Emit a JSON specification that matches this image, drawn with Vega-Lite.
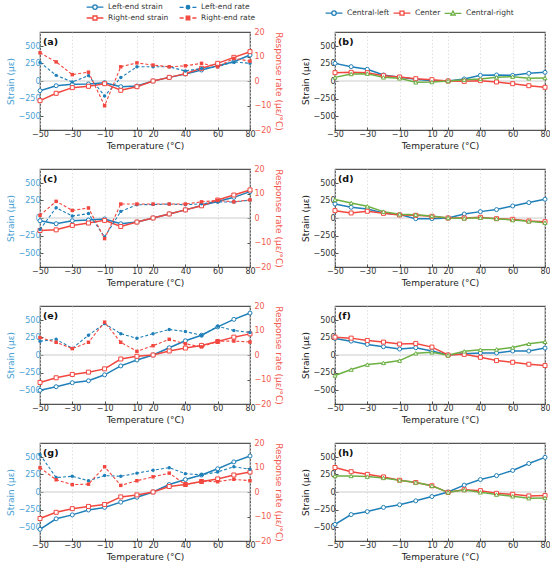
{
  "$schema": "https://vega.github.io/schema/vega-lite/v6.json",
  "padding": {"left": 5, "top": 1, "right": 3, "bottom": 3},
  "datasets": {
    "left": [
      {"p":"a","s":"Left-end strain","T":-50,"v":-138},{"p":"a","s":"Left-end strain","T":-40,"v":-67},{"p":"a","s":"Left-end strain","T":-30,"v":-48},{"p":"a","s":"Left-end strain","T":-20,"v":-43},{"p":"a","s":"Left-end strain","T":-10,"v":-24},{"p":"a","s":"Left-end strain","T":0,"v":-81},{"p":"a","s":"Left-end strain","T":10,"v":-71},{"p":"a","s":"Left-end strain","T":20,"v":0},{"p":"a","s":"Left-end strain","T":30,"v":52},{"p":"a","s":"Left-end strain","T":40,"v":100},{"p":"a","s":"Left-end strain","T":50,"v":157},{"p":"a","s":"Left-end strain","T":60,"v":219},{"p":"a","s":"Left-end strain","T":70,"v":276},{"p":"a","s":"Left-end strain","T":80,"v":371},
      {"p":"a","s":"Right-end strain","T":-50,"v":-281},{"p":"a","s":"Right-end strain","T":-40,"v":-176},{"p":"a","s":"Right-end strain","T":-30,"v":-95},{"p":"a","s":"Right-end strain","T":-20,"v":-76},{"p":"a","s":"Right-end strain","T":-10,"v":-38},{"p":"a","s":"Right-end strain","T":0,"v":-133},{"p":"a","s":"Right-end strain","T":10,"v":-81},{"p":"a","s":"Right-end strain","T":20,"v":0},{"p":"a","s":"Right-end strain","T":30,"v":52},{"p":"a","s":"Right-end strain","T":40,"v":105},{"p":"a","s":"Right-end strain","T":50,"v":181},{"p":"a","s":"Right-end strain","T":60,"v":252},{"p":"a","s":"Right-end strain","T":70,"v":338},{"p":"a","s":"Right-end strain","T":80,"v":419},
      {"p":"a","s":"Left-end rate","T":-50,"v":7.6},{"p":"a","s":"Left-end rate","T":-40,"v":2.3},{"p":"a","s":"Left-end rate","T":-30,"v":-0.4},{"p":"a","s":"Left-end rate","T":-20,"v":2.2},{"p":"a","s":"Left-end rate","T":-10,"v":-6.1},{"p":"a","s":"Left-end rate","T":0,"v":1.4},{"p":"a","s":"Left-end rate","T":10,"v":5.8},{"p":"a","s":"Left-end rate","T":20,"v":5.8},{"p":"a","s":"Left-end rate","T":30,"v":5.8},{"p":"a","s":"Left-end rate","T":40,"v":4.1},{"p":"a","s":"Left-end rate","T":50,"v":5.1},{"p":"a","s":"Left-end rate","T":60,"v":5.8},{"p":"a","s":"Left-end rate","T":70,"v":7.8},{"p":"a","s":"Left-end rate","T":80,"v":7.2},
      {"p":"a","s":"Right-end rate","T":-50,"v":11.5},{"p":"a","s":"Right-end rate","T":-40,"v":7.8},{"p":"a","s":"Right-end rate","T":-30,"v":2.6},{"p":"a","s":"Right-end rate","T":-20,"v":3.6},{"p":"a","s":"Right-end rate","T":-10,"v":-10.1},{"p":"a","s":"Right-end rate","T":0,"v":5.8},{"p":"a","s":"Right-end rate","T":10,"v":7.4},{"p":"a","s":"Right-end rate","T":20,"v":6.5},{"p":"a","s":"Right-end rate","T":30,"v":5.8},{"p":"a","s":"Right-end rate","T":40,"v":6.2},{"p":"a","s":"Right-end rate","T":50,"v":7.2},{"p":"a","s":"Right-end rate","T":60,"v":5.8},{"p":"a","s":"Right-end rate","T":70,"v":9.2},{"p":"a","s":"Right-end rate","T":80,"v":8.1},
      {"p":"c","s":"Left-end strain","T":-50,"v":-39},{"p":"c","s":"Left-end strain","T":-40,"v":-82},{"p":"c","s":"Left-end strain","T":-30,"v":-39},{"p":"c","s":"Left-end strain","T":-20,"v":-29},{"p":"c","s":"Left-end strain","T":-10,"v":-14},{"p":"c","s":"Left-end strain","T":0,"v":-82},{"p":"c","s":"Left-end strain","T":10,"v":-58},{"p":"c","s":"Left-end strain","T":20,"v":0},{"p":"c","s":"Left-end strain","T":30,"v":58},{"p":"c","s":"Left-end strain","T":40,"v":116},{"p":"c","s":"Left-end strain","T":50,"v":179},{"p":"c","s":"Left-end strain","T":60,"v":237},{"p":"c","s":"Left-end strain","T":70,"v":295},{"p":"c","s":"Left-end strain","T":80,"v":377},
      {"p":"c","s":"Right-end strain","T":-50,"v":-179},{"p":"c","s":"Right-end strain","T":-40,"v":-169},{"p":"c","s":"Right-end strain","T":-30,"v":-106},{"p":"c","s":"Right-end strain","T":-20,"v":-72},{"p":"c","s":"Right-end strain","T":-10,"v":-34},{"p":"c","s":"Right-end strain","T":0,"v":-121},{"p":"c","s":"Right-end strain","T":10,"v":-58},{"p":"c","s":"Right-end strain","T":20,"v":0},{"p":"c","s":"Right-end strain","T":30,"v":58},{"p":"c","s":"Right-end strain","T":40,"v":116},{"p":"c","s":"Right-end strain","T":50,"v":174},{"p":"c","s":"Right-end strain","T":60,"v":256},{"p":"c","s":"Right-end strain","T":70,"v":328},{"p":"c","s":"Right-end strain","T":80,"v":401},
      {"p":"c","s":"Left-end rate","T":-50,"v":-4.7},{"p":"c","s":"Left-end rate","T":-40,"v":4.2},{"p":"c","s":"Left-end rate","T":-30,"v":0.8},{"p":"c","s":"Left-end rate","T":-20,"v":1.8},{"p":"c","s":"Left-end rate","T":-10,"v":-7.7},{"p":"c","s":"Left-end rate","T":0,"v":2.7},{"p":"c","s":"Left-end rate","T":10,"v":5.4},{"p":"c","s":"Left-end rate","T":20,"v":5.5},{"p":"c","s":"Left-end rate","T":30,"v":5.7},{"p":"c","s":"Left-end rate","T":40,"v":5.4},{"p":"c","s":"Left-end rate","T":50,"v":5.8},{"p":"c","s":"Left-end rate","T":60,"v":6.6},{"p":"c","s":"Left-end rate","T":70,"v":6.5},{"p":"c","s":"Left-end rate","T":80,"v":7.3},
      {"p":"c","s":"Right-end rate","T":-50,"v":1.1},{"p":"c","s":"Right-end rate","T":-40,"v":6.8},{"p":"c","s":"Right-end rate","T":-30,"v":3.1},{"p":"c","s":"Right-end rate","T":-20,"v":4.1},{"p":"c","s":"Right-end rate","T":-10,"v":-8.4},{"p":"c","s":"Right-end rate","T":0,"v":5.7},{"p":"c","s":"Right-end rate","T":10,"v":5.7},{"p":"c","s":"Right-end rate","T":20,"v":5.7},{"p":"c","s":"Right-end rate","T":30,"v":5.7},{"p":"c","s":"Right-end rate","T":40,"v":5.7},{"p":"c","s":"Right-end rate","T":50,"v":6.6},{"p":"c","s":"Right-end rate","T":60,"v":7.2},{"p":"c","s":"Right-end rate","T":70,"v":6.6},{"p":"c","s":"Right-end rate","T":80,"v":7.4},
      {"p":"e","s":"Left-end strain","T":-50,"v":-505},{"p":"e","s":"Left-end strain","T":-40,"v":-453},{"p":"e","s":"Left-end strain","T":-30,"v":-396},{"p":"e","s":"Left-end strain","T":-20,"v":-368},{"p":"e","s":"Left-end strain","T":-10,"v":-283},{"p":"e","s":"Left-end strain","T":0,"v":-156},{"p":"e","s":"Left-end strain","T":10,"v":-71},{"p":"e","s":"Left-end strain","T":20,"v":0},{"p":"e","s":"Left-end strain","T":30,"v":104},{"p":"e","s":"Left-end strain","T":40,"v":203},{"p":"e","s":"Left-end strain","T":50,"v":283},{"p":"e","s":"Left-end strain","T":60,"v":401},{"p":"e","s":"Left-end strain","T":70,"v":509},{"p":"e","s":"Left-end strain","T":80,"v":599},
      {"p":"e","s":"Right-end strain","T":-50,"v":-392},{"p":"e","s":"Right-end strain","T":-40,"v":-325},{"p":"e","s":"Right-end strain","T":-30,"v":-278},{"p":"e","s":"Right-end strain","T":-20,"v":-245},{"p":"e","s":"Right-end strain","T":-10,"v":-198},{"p":"e","s":"Right-end strain","T":0,"v":-57},{"p":"e","s":"Right-end strain","T":10,"v":-19},{"p":"e","s":"Right-end strain","T":20,"v":0},{"p":"e","s":"Right-end strain","T":30,"v":57},{"p":"e","s":"Right-end strain","T":40,"v":99},{"p":"e","s":"Right-end strain","T":50,"v":137},{"p":"e","s":"Right-end strain","T":60,"v":193},{"p":"e","s":"Right-end strain","T":70,"v":255},{"p":"e","s":"Right-end strain","T":80,"v":302},
      {"p":"e","s":"Left-end rate","T":-50,"v":5.6},{"p":"e","s":"Left-end rate","T":-40,"v":6.4},{"p":"e","s":"Left-end rate","T":-30,"v":2.7},{"p":"e","s":"Left-end rate","T":-20,"v":8.1},{"p":"e","s":"Left-end rate","T":-10,"v":12.8},{"p":"e","s":"Left-end rate","T":0,"v":8.7},{"p":"e","s":"Left-end rate","T":10,"v":6.8},{"p":"e","s":"Left-end rate","T":20,"v":8.7},{"p":"e","s":"Left-end rate","T":30,"v":10.4},{"p":"e","s":"Left-end rate","T":40,"v":9.6},{"p":"e","s":"Left-end rate","T":50,"v":8.0},{"p":"e","s":"Left-end rate","T":60,"v":11.7},{"p":"e","s":"Left-end rate","T":70,"v":10.0},{"p":"e","s":"Left-end rate","T":80,"v":9.2},
      {"p":"e","s":"Right-end rate","T":-50,"v":7.1},{"p":"e","s":"Right-end rate","T":-40,"v":5.2},{"p":"e","s":"Right-end rate","T":-30,"v":2.6},{"p":"e","s":"Right-end rate","T":-20,"v":5.2},{"p":"e","s":"Right-end rate","T":-10,"v":13.4},{"p":"e","s":"Right-end rate","T":0,"v":5.2},{"p":"e","s":"Right-end rate","T":10,"v":1.5},{"p":"e","s":"Right-end rate","T":20,"v":3.8},{"p":"e","s":"Right-end rate","T":30,"v":6.4},{"p":"e","s":"Right-end rate","T":40,"v":4.6},{"p":"e","s":"Right-end rate","T":50,"v":3.3},{"p":"e","s":"Right-end rate","T":60,"v":5.6},{"p":"e","s":"Right-end rate","T":70,"v":5.7},{"p":"e","s":"Right-end rate","T":80,"v":5.3},
      {"p":"g","s":"Left-end strain","T":-50,"v":-533},{"p":"g","s":"Left-end strain","T":-40,"v":-383},{"p":"g","s":"Left-end strain","T":-30,"v":-327},{"p":"g","s":"Left-end strain","T":-20,"v":-257},{"p":"g","s":"Left-end strain","T":-10,"v":-220},{"p":"g","s":"Left-end strain","T":0,"v":-145},{"p":"g","s":"Left-end strain","T":10,"v":-75},{"p":"g","s":"Left-end strain","T":20,"v":0},{"p":"g","s":"Left-end strain","T":30,"v":107},{"p":"g","s":"Left-end strain","T":40,"v":178},{"p":"g","s":"Left-end strain","T":50,"v":243},{"p":"g","s":"Left-end strain","T":60,"v":332},{"p":"g","s":"Left-end strain","T":70,"v":430},{"p":"g","s":"Left-end strain","T":80,"v":514},
      {"p":"g","s":"Right-end strain","T":-50,"v":-379},{"p":"g","s":"Right-end strain","T":-40,"v":-290},{"p":"g","s":"Right-end strain","T":-30,"v":-238},{"p":"g","s":"Right-end strain","T":-20,"v":-206},{"p":"g","s":"Right-end strain","T":-10,"v":-178},{"p":"g","s":"Right-end strain","T":0,"v":-70},{"p":"g","s":"Right-end strain","T":10,"v":-42},{"p":"g","s":"Right-end strain","T":20,"v":0},{"p":"g","s":"Right-end strain","T":30,"v":79},{"p":"g","s":"Right-end strain","T":40,"v":107},{"p":"g","s":"Right-end strain","T":50,"v":150},{"p":"g","s":"Right-end strain","T":60,"v":187},{"p":"g","s":"Right-end strain","T":70,"v":243},{"p":"g","s":"Right-end strain","T":80,"v":285},
      {"p":"g","s":"Left-end rate","T":-50,"v":15.3},{"p":"g","s":"Left-end rate","T":-40,"v":5.9},{"p":"g","s":"Left-end rate","T":-30,"v":6.4},{"p":"g","s":"Left-end rate","T":-20,"v":4.6},{"p":"g","s":"Left-end rate","T":-10,"v":6.7},{"p":"g","s":"Left-end rate","T":0,"v":6.4},{"p":"g","s":"Left-end rate","T":10,"v":7.7},{"p":"g","s":"Left-end rate","T":20,"v":8.9},{"p":"g","s":"Left-end rate","T":30,"v":9.9},{"p":"g","s":"Left-end rate","T":40,"v":7.5},{"p":"g","s":"Left-end rate","T":50,"v":7.0},{"p":"g","s":"Left-end rate","T":60,"v":8.2},{"p":"g","s":"Left-end rate","T":70,"v":10.3},{"p":"g","s":"Left-end rate","T":80,"v":9.3},
      {"p":"g","s":"Right-end rate","T":-50,"v":9.9},{"p":"g","s":"Right-end rate","T":-40,"v":5.0},{"p":"g","s":"Right-end rate","T":-30,"v":3.0},{"p":"g","s":"Right-end rate","T":-20,"v":3.2},{"p":"g","s":"Right-end rate","T":-10,"v":10.3},{"p":"g","s":"Right-end rate","T":0,"v":2.7},{"p":"g","s":"Right-end rate","T":10,"v":4.6},{"p":"g","s":"Right-end rate","T":20,"v":6.2},{"p":"g","s":"Right-end rate","T":30,"v":7.7},{"p":"g","s":"Right-end rate","T":40,"v":3.0},{"p":"g","s":"Right-end rate","T":50,"v":4.4},{"p":"g","s":"Right-end rate","T":60,"v":4.2},{"p":"g","s":"Right-end rate","T":70,"v":5.2},{"p":"g","s":"Right-end rate","T":80,"v":4.6}
    ],
    "right": [
      {"p":"b","s":"Central-left","T":-50,"v":252},{"p":"b","s":"Central-left","T":-40,"v":205},{"p":"b","s":"Central-left","T":-30,"v":167},{"p":"b","s":"Central-left","T":-20,"v":86},{"p":"b","s":"Central-left","T":-10,"v":52},{"p":"b","s":"Central-left","T":0,"v":24},{"p":"b","s":"Central-left","T":10,"v":5},{"p":"b","s":"Central-left","T":20,"v":0},{"p":"b","s":"Central-left","T":30,"v":29},{"p":"b","s":"Central-left","T":40,"v":81},{"p":"b","s":"Central-left","T":50,"v":86},{"p":"b","s":"Central-left","T":60,"v":81},{"p":"b","s":"Central-left","T":70,"v":110},{"p":"b","s":"Central-left","T":80,"v":124},
      {"p":"b","s":"Center","T":-50,"v":119},{"p":"b","s":"Center","T":-40,"v":124},{"p":"b","s":"Center","T":-30,"v":119},{"p":"b","s":"Center","T":-20,"v":76},{"p":"b","s":"Center","T":-10,"v":57},{"p":"b","s":"Center","T":0,"v":33},{"p":"b","s":"Center","T":10,"v":19},{"p":"b","s":"Center","T":20,"v":0},{"p":"b","s":"Center","T":30,"v":-5},{"p":"b","s":"Center","T":40,"v":5},{"p":"b","s":"Center","T":50,"v":-14},{"p":"b","s":"Center","T":60,"v":-38},{"p":"b","s":"Center","T":70,"v":-67},{"p":"b","s":"Center","T":80,"v":-90},
      {"p":"b","s":"Central-right","T":-50,"v":52},{"p":"b","s":"Central-right","T":-40,"v":100},{"p":"b","s":"Central-right","T":-30,"v":105},{"p":"b","s":"Central-right","T":-20,"v":52},{"p":"b","s":"Central-right","T":-10,"v":38},{"p":"b","s":"Central-right","T":0,"v":-19},{"p":"b","s":"Central-right","T":10,"v":-14},{"p":"b","s":"Central-right","T":20,"v":0},{"p":"b","s":"Central-right","T":30,"v":19},{"p":"b","s":"Central-right","T":40,"v":29},{"p":"b","s":"Central-right","T":50,"v":52},{"p":"b","s":"Central-right","T":60,"v":62},{"p":"b","s":"Central-right","T":70,"v":38},{"p":"b","s":"Central-right","T":80,"v":43},
      {"p":"d","s":"Central-left","T":-50,"v":201},{"p":"d","s":"Central-left","T":-40,"v":153},{"p":"d","s":"Central-left","T":-30,"v":129},{"p":"d","s":"Central-left","T":-20,"v":72},{"p":"d","s":"Central-left","T":-10,"v":48},{"p":"d","s":"Central-left","T":0,"v":-10},{"p":"d","s":"Central-left","T":10,"v":-10},{"p":"d","s":"Central-left","T":20,"v":0},{"p":"d","s":"Central-left","T":30,"v":57},{"p":"d","s":"Central-left","T":40,"v":91},{"p":"d","s":"Central-left","T":50,"v":120},{"p":"d","s":"Central-left","T":60,"v":172},{"p":"d","s":"Central-left","T":70,"v":220},{"p":"d","s":"Central-left","T":80,"v":268},
      {"p":"d","s":"Center","T":-50,"v":105},{"p":"d","s":"Center","T":-40,"v":72},{"p":"d","s":"Center","T":-30,"v":96},{"p":"d","s":"Center","T":-20,"v":67},{"p":"d","s":"Center","T":-10,"v":43},{"p":"d","s":"Center","T":0,"v":38},{"p":"d","s":"Center","T":10,"v":24},{"p":"d","s":"Center","T":20,"v":0},{"p":"d","s":"Center","T":30,"v":0},{"p":"d","s":"Center","T":40,"v":10},{"p":"d","s":"Center","T":50,"v":-10},{"p":"d","s":"Center","T":60,"v":-19},{"p":"d","s":"Center","T":70,"v":-43},{"p":"d","s":"Center","T":80,"v":-53},
      {"p":"d","s":"Central-right","T":-50,"v":263},{"p":"d","s":"Central-right","T":-40,"v":215},{"p":"d","s":"Central-right","T":-30,"v":167},{"p":"d","s":"Central-right","T":-20,"v":91},{"p":"d","s":"Central-right","T":-10,"v":53},{"p":"d","s":"Central-right","T":0,"v":48},{"p":"d","s":"Central-right","T":10,"v":29},{"p":"d","s":"Central-right","T":20,"v":0},{"p":"d","s":"Central-right","T":30,"v":-5},{"p":"d","s":"Central-right","T":40,"v":5},{"p":"d","s":"Central-right","T":50,"v":-10},{"p":"d","s":"Central-right","T":60,"v":-29},{"p":"d","s":"Central-right","T":70,"v":-48},{"p":"d","s":"Central-right","T":80,"v":-67},
      {"p":"f","s":"Central-left","T":-50,"v":236},{"p":"f","s":"Central-left","T":-40,"v":198},{"p":"f","s":"Central-left","T":-30,"v":151},{"p":"f","s":"Central-left","T":-20,"v":118},{"p":"f","s":"Central-left","T":-10,"v":85},{"p":"f","s":"Central-left","T":0,"v":104},{"p":"f","s":"Central-left","T":10,"v":57},{"p":"f","s":"Central-left","T":20,"v":0},{"p":"f","s":"Central-left","T":30,"v":19},{"p":"f","s":"Central-left","T":40,"v":28},{"p":"f","s":"Central-left","T":50,"v":28},{"p":"f","s":"Central-left","T":60,"v":57},{"p":"f","s":"Central-left","T":70,"v":57},{"p":"f","s":"Central-left","T":80,"v":99},
      {"p":"f","s":"Center","T":-50,"v":255},{"p":"f","s":"Center","T":-40,"v":241},{"p":"f","s":"Center","T":-30,"v":208},{"p":"f","s":"Center","T":-20,"v":184},{"p":"f","s":"Center","T":-10,"v":156},{"p":"f","s":"Center","T":0,"v":165},{"p":"f","s":"Center","T":10,"v":113},{"p":"f","s":"Center","T":20,"v":0},{"p":"f","s":"Center","T":30,"v":9},{"p":"f","s":"Center","T":40,"v":-33},{"p":"f","s":"Center","T":50,"v":-80},{"p":"f","s":"Center","T":60,"v":-104},{"p":"f","s":"Center","T":70,"v":-132},{"p":"f","s":"Center","T":80,"v":-151},
      {"p":"f","s":"Central-right","T":-50,"v":-292},{"p":"f","s":"Central-right","T":-40,"v":-208},{"p":"f","s":"Central-right","T":-30,"v":-137},{"p":"f","s":"Central-right","T":-20,"v":-113},{"p":"f","s":"Central-right","T":-10,"v":-80},{"p":"f","s":"Central-right","T":0,"v":24},{"p":"f","s":"Central-right","T":10,"v":38},{"p":"f","s":"Central-right","T":20,"v":-5},{"p":"f","s":"Central-right","T":30,"v":52},{"p":"f","s":"Central-right","T":40,"v":75},{"p":"f","s":"Central-right","T":50,"v":80},{"p":"f","s":"Central-right","T":60,"v":108},{"p":"f","s":"Central-right","T":70,"v":160},{"p":"f","s":"Central-right","T":80,"v":189},
      {"p":"h","s":"Central-left","T":-50,"v":-463},{"p":"h","s":"Central-left","T":-40,"v":-322},{"p":"h","s":"Central-left","T":-30,"v":-280},{"p":"h","s":"Central-left","T":-20,"v":-220},{"p":"h","s":"Central-left","T":-10,"v":-182},{"p":"h","s":"Central-left","T":0,"v":-126},{"p":"h","s":"Central-left","T":10,"v":-65},{"p":"h","s":"Central-left","T":20,"v":0},{"p":"h","s":"Central-left","T":30,"v":98},{"p":"h","s":"Central-left","T":40,"v":178},{"p":"h","s":"Central-left","T":50,"v":234},{"p":"h","s":"Central-left","T":60,"v":308},{"p":"h","s":"Central-left","T":70,"v":407},{"p":"h","s":"Central-left","T":80,"v":495},
      {"p":"h","s":"Center","T":-50,"v":350},{"p":"h","s":"Center","T":-40,"v":290},{"p":"h","s":"Center","T":-30,"v":252},{"p":"h","s":"Center","T":-20,"v":215},{"p":"h","s":"Center","T":-10,"v":168},{"p":"h","s":"Center","T":0,"v":136},{"p":"h","s":"Center","T":10,"v":89},{"p":"h","s":"Center","T":20,"v":-5},{"p":"h","s":"Center","T":30,"v":33},{"p":"h","s":"Center","T":40,"v":19},{"p":"h","s":"Center","T":50,"v":-19},{"p":"h","s":"Center","T":60,"v":-33},{"p":"h","s":"Center","T":70,"v":-56},{"p":"h","s":"Center","T":80,"v":-51},
      {"p":"h","s":"Central-right","T":-50,"v":229},{"p":"h","s":"Central-right","T":-40,"v":229},{"p":"h","s":"Central-right","T":-30,"v":220},{"p":"h","s":"Central-right","T":-20,"v":201},{"p":"h","s":"Central-right","T":-10,"v":168},{"p":"h","s":"Central-right","T":0,"v":136},{"p":"h","s":"Central-right","T":10,"v":89},{"p":"h","s":"Central-right","T":20,"v":-5},{"p":"h","s":"Central-right","T":30,"v":28},{"p":"h","s":"Central-right","T":40,"v":-5},{"p":"h","s":"Central-right","T":50,"v":-37},{"p":"h","s":"Central-right","T":60,"v":-61},{"p":"h","s":"Central-right","T":70,"v":-89},{"p":"h","s":"Central-right","T":80,"v":-84}
    ]
  },
  "spacing": 13,
  "resolve": {"scale": {"color": "independent", "shape": "independent", "fill": "independent", "stroke": "independent", "x": "independent", "y": "independent"}, "legend": {"color": "independent", "shape": "independent", "fill": "independent", "stroke": "independent"}},
  "vconcat": [
    {
      "spacing": 16,
      "resolve": {"scale": {"color": "independent", "shape": "independent", "fill": "independent", "stroke": "independent", "x": "independent", "y": "independent"}, "legend": {"color": "independent", "shape": "independent", "fill": "independent", "stroke": "independent"}},
      "hconcat": [
        {
          "width": 210, "height": 98,
          "resolve": {"scale": {"y": "independent"}},
          "layer": [
            {"layer": [
              {"data": {"values": [{}]}, "mark": {"type": "rule", "color": "#cccccc", "strokeWidth": 1}, "encoding": {"y": {"datum": 0, "type": "quantitative"}}},
              {"data": {"name": "left"}, "transform": [{"filter": "datum.p === 'a' && indexof(datum.s, 'strain') >= 0"}], "mark": {"type": "line", "strokeWidth": 1.5},
               "encoding": {"x": {"field": "T", "type": "quantitative", "scale": {"domain": [-50, 80], "nice": false}, "axis": {"values": [-50, -30, -10, 10, 20, 40, 60, 80], "tickCount": 20, "title": "Temperature (°C)", "labelFlush": false}},
                 "y": {"field": "v", "type": "quantitative", "scale": {"domain": [-700, 700], "nice": false, "zero": false}, "axis": {"values": [-500, -250, 0, 250, 500], "tickCount": 20, "title": "Strain (με)", "labelColor": "#4a9fd4", "titleColor": "#4a9fd4"}},
                 "color": {"field": "s", "type": "nominal", "scale": {"domain": ["Left-end rate", "Left-end strain", "Right-end rate", "Right-end strain"], "range": ["#1f7fb8", "#1f7fb8", "#f2473f", "#f2473f"]}, "legend": null}}},
              {"data": {"name": "left"}, "transform": [{"filter": "datum.p === 'a' && datum.s === 'Left-end strain'"}], "mark": {"type": "point", "shape": "circle", "filled": false, "fill": "white", "size": 16, "strokeWidth": 1, "opacity": 1, "color": "#1f7fb8"},
               "encoding": {"x": {"field": "T", "type": "quantitative"}, "y": {"field": "v", "type": "quantitative"}}},
              {"data": {"name": "left"}, "transform": [{"filter": "datum.p === 'a' && datum.s === 'Right-end strain'"}], "mark": {"type": "point", "shape": "square", "filled": false, "fill": "white", "size": 16, "strokeWidth": 1, "opacity": 1, "color": "#f2473f"},
               "encoding": {"x": {"field": "T", "type": "quantitative"}, "y": {"field": "v", "type": "quantitative"}}},
              {"data": {"name": "left"}, "transform": [{"filter": "datum.p === 'a' && datum.T === 20"}], "mark": {"type": "point", "filled": true, "opacity": 0},
               "encoding": {"x": {"field": "T", "type": "quantitative"}, "y": {"field": "v", "type": "quantitative"},
                 "shape": {"field": "s", "type": "nominal", "scale": {"domain": ["Left-end strain", "Left-end rate", "Right-end strain", "Right-end rate"], "range": ["M-2.1,0L-0.55,0M0.55,0L2.1,0M-0.55,0A0.55,0.55,0,1,1,0.55,0A0.55,0.55,0,1,1,-0.55,0Z", "M-2.1,0L-1.1,0M1.1,0L2.1,0M-0.45,0A0.45,0.45,0,1,1,0.45,0A0.45,0.45,0,1,1,-0.45,0Z", "M-2.1,0L-0.5,0M0.5,0L2.1,0M-0.5,-0.5L0.5,-0.5L0.5,0.5L-0.5,0.5Z", "M-2.1,0L-1.1,0M1.1,0L2.1,0M-0.45,-0.45L0.45,-0.45L0.45,0.45L-0.45,0.45Z"]},
                   "legend": {"orient": "none", "legendX": 46, "legendY": -30, "direction": "horizontal", "columns": 2, "title": null, "labelFontSize": 7.5, "symbolSize": 64, "symbolOffset": 4, "labelOffset": 8, "columnPadding": 8, "rowPadding": 1, "symbolStrokeWidth": 1.3, "symbolOpacity": 1}},
                 "fill": {"field": "s", "type": "nominal", "scale": {"domain": ["Left-end strain", "Left-end rate", "Right-end strain", "Right-end rate"], "range": ["white", "#1f7fb8", "white", "#f2473f"]},
                   "legend": {"orient": "none", "legendX": 46, "legendY": -30, "direction": "horizontal", "columns": 2, "title": null, "labelFontSize": 7.5, "symbolSize": 64, "symbolOffset": 4, "labelOffset": 8, "columnPadding": 8, "rowPadding": 1, "symbolStrokeWidth": 1.3, "symbolOpacity": 1}},
                 "stroke": {"field": "s", "type": "nominal", "scale": {"domain": ["Left-end strain", "Left-end rate", "Right-end strain", "Right-end rate"], "range": ["#1f7fb8", "#1f7fb8", "#f2473f", "#f2473f"]},
                   "legend": {"orient": "none", "legendX": 46, "legendY": -30, "direction": "horizontal", "columns": 2, "title": null, "labelFontSize": 7.5, "symbolSize": 64, "symbolOffset": 4, "labelOffset": 8, "columnPadding": 8, "rowPadding": 1, "symbolStrokeWidth": 1.3, "symbolOpacity": 1}}}},
              {"data": {"values": [{}]}, "mark": {"type": "text", "text": "(a)", "align": "left", "baseline": "top", "dx": 3, "dy": 5, "fontWeight": "bold", "fontSize": 9.5, "color": "#111111"},
               "encoding": {"x": {"datum": -50, "type": "quantitative"}, "y": {"datum": 700, "type": "quantitative"}}}
            ]},
            {"layer": [
              {"data": {"name": "left"}, "transform": [{"filter": "datum.p === 'a' && indexof(datum.s, 'rate') >= 0"}], "mark": {"type": "line", "strokeWidth": 1.1, "strokeDash": [3, 2]},
               "encoding": {"x": {"field": "T", "type": "quantitative"},
                 "y": {"field": "v", "type": "quantitative", "scale": {"domain": [-20, 20], "nice": false}, "axis": {"orient": "right", "values": [-20, -10, 0, 10, 20], "tickCount": 20, "labelPadding": 7, "title": "Response rate (με/°C)", "labelColor": "#f25a50", "titleColor": "#f25a50", "grid": false}},
                 "color": {"field": "s", "type": "nominal", "scale": {"domain": ["Left-end rate", "Left-end strain", "Right-end rate", "Right-end strain"], "range": ["#1f7fb8", "#1f7fb8", "#f2473f", "#f2473f"]}, "legend": null}}},
              {"data": {"name": "left"}, "transform": [{"filter": "datum.p === 'a' && datum.s === 'Left-end rate'"}], "mark": {"type": "point", "shape": "circle", "filled": true, "size": 12, "opacity": 1, "color": "#1f7fb8"},
               "encoding": {"x": {"field": "T", "type": "quantitative"}, "y": {"field": "v", "type": "quantitative"}}},
              {"data": {"name": "left"}, "transform": [{"filter": "datum.p === 'a' && datum.s === 'Right-end rate'"}], "mark": {"type": "point", "shape": "square", "filled": true, "size": 12, "opacity": 1, "color": "#f2473f"},
               "encoding": {"x": {"field": "T", "type": "quantitative"}, "y": {"field": "v", "type": "quantitative"}}}
            ]}
          ]
        },
        {
          "width": 210, "height": 98,
          "layer": [
            {"data": {"values": [{}]}, "mark": {"type": "rule", "color": "#cccccc", "strokeWidth": 1}, "encoding": {"y": {"datum": 0, "type": "quantitative"}}},
            {"data": {"name": "right"}, "transform": [{"filter": "datum.p === 'b'"}], "mark": {"type": "line", "strokeWidth": 1.5},
             "encoding": {"x": {"field": "T", "type": "quantitative", "scale": {"domain": [-50, 80], "nice": false}, "axis": {"values": [-50, -30, -10, 10, 20, 40, 60, 80], "tickCount": 20, "title": "Temperature (°C)", "labelFlush": false}},
               "y": {"field": "v", "type": "quantitative", "scale": {"domain": [-700, 700], "nice": false, "zero": false}, "axis": {"values": [-500, -250, 0, 250, 500], "tickCount": 20, "title": "Strain (με)"}},
               "color": {"field": "s", "type": "nominal", "scale": {"domain": ["Center", "Central-left", "Central-right"], "range": ["#f2473f", "#1f7fb8", "#6cb043"]}, "legend": null}}},
            {"data": {"name": "right"}, "transform": [{"filter": "datum.p === 'b' && datum.s === 'Central-left'"}], "mark": {"type": "point", "shape": "circle", "filled": false, "fill": "white", "size": 16, "strokeWidth": 1, "opacity": 1, "color": "#1f7fb8"},
             "encoding": {"x": {"field": "T", "type": "quantitative"}, "y": {"field": "v", "type": "quantitative"}}},
            {"data": {"name": "right"}, "transform": [{"filter": "datum.p === 'b' && datum.s === 'Center'"}], "mark": {"type": "point", "shape": "square", "filled": false, "fill": "white", "size": 16, "strokeWidth": 1, "opacity": 1, "color": "#f2473f"},
             "encoding": {"x": {"field": "T", "type": "quantitative"}, "y": {"field": "v", "type": "quantitative"}}},
            {"data": {"name": "right"}, "transform": [{"filter": "datum.p === 'b' && datum.s === 'Central-right'"}], "mark": {"type": "point", "shape": "triangle-up", "filled": false, "fill": "white", "size": 16, "strokeWidth": 1, "opacity": 1, "color": "#6cb043"},
             "encoding": {"x": {"field": "T", "type": "quantitative"}, "y": {"field": "v", "type": "quantitative"}}},
            {"data": {"name": "right"}, "transform": [{"filter": "datum.p === 'b' && datum.T === 20"}], "mark": {"type": "point", "filled": false, "fill": "white", "opacity": 0},
             "encoding": {"x": {"field": "T", "type": "quantitative"}, "y": {"field": "v", "type": "quantitative"},
               "shape": {"field": "s", "type": "nominal", "scale": {"domain": ["Central-left", "Center", "Central-right"], "range": ["M-2.1,0L-0.55,0M0.55,0L2.1,0M-0.55,0A0.55,0.55,0,1,1,0.55,0A0.55,0.55,0,1,1,-0.55,0Z", "M-2.1,0L-0.5,0M0.5,0L2.1,0M-0.5,-0.5L0.5,-0.5L0.5,0.5L-0.5,0.5Z", "M-2.1,0L-0.55,0M0.55,0L2.1,0M0,-0.6L0.55,0.4L-0.55,0.4Z"]},
                 "legend": {"orient": "none", "legendX": -10, "legendY": -24, "direction": "horizontal", "columns": 3, "title": null, "labelFontSize": 7.5, "symbolSize": 64, "symbolOffset": 4, "labelOffset": 8, "columnPadding": 1, "symbolStrokeWidth": 1.3, "symbolOpacity": 1}},
               "stroke": {"field": "s", "type": "nominal", "scale": {"domain": ["Central-left", "Center", "Central-right"], "range": ["#1f7fb8", "#f2473f", "#6cb043"]},
                 "legend": {"orient": "none", "legendX": -10, "legendY": -24, "direction": "horizontal", "columns": 3, "title": null, "labelFontSize": 7.5, "symbolSize": 64, "symbolOffset": 4, "labelOffset": 8, "columnPadding": 1, "symbolStrokeWidth": 1.3, "symbolOpacity": 1}}}},
            {"data": {"values": [{}]}, "mark": {"type": "text", "text": "(b)", "align": "left", "baseline": "top", "dx": 3, "dy": 5, "fontWeight": "bold", "fontSize": 9.5, "color": "#111111"},
             "encoding": {"x": {"datum": -50, "type": "quantitative"}, "y": {"datum": 700, "type": "quantitative"}}}
          ]
        }
      ]
    },
    {
      "spacing": 16,
      "resolve": {"scale": {"color": "independent", "x": "independent", "y": "independent"}},
      "hconcat": [
        {
          "width": 210, "height": 98,
          "resolve": {"scale": {"y": "independent"}},
          "layer": [
            {"layer": [
              {"data": {"values": [{}]}, "mark": {"type": "rule", "color": "#cccccc", "strokeWidth": 1}, "encoding": {"y": {"datum": 0, "type": "quantitative"}}},
              {"data": {"name": "left"}, "transform": [{"filter": "datum.p === 'c' && indexof(datum.s, 'strain') >= 0"}], "mark": {"type": "line", "strokeWidth": 1.5},
               "encoding": {"x": {"field": "T", "type": "quantitative", "scale": {"domain": [-50, 80], "nice": false}, "axis": {"values": [-50, -30, -10, 10, 20, 40, 60, 80], "tickCount": 20, "title": "Temperature (°C)", "labelFlush": false}},
                 "y": {"field": "v", "type": "quantitative", "scale": {"domain": [-700, 700], "nice": false, "zero": false}, "axis": {"values": [-500, -250, 0, 250, 500], "tickCount": 20, "title": "Strain (με)", "labelColor": "#4a9fd4", "titleColor": "#4a9fd4"}},
                 "color": {"field": "s", "type": "nominal", "scale": {"domain": ["Left-end strain", "Left-end rate", "Right-end strain", "Right-end rate"], "range": ["#1f7fb8", "#1f7fb8", "#f2473f", "#f2473f"]}, "legend": null}}},
              {"data": {"name": "left"}, "transform": [{"filter": "datum.p === 'c' && datum.s === 'Left-end strain'"}], "mark": {"type": "point", "shape": "circle", "filled": false, "fill": "white", "size": 16, "strokeWidth": 1, "opacity": 1, "color": "#1f7fb8"},
               "encoding": {"x": {"field": "T", "type": "quantitative"}, "y": {"field": "v", "type": "quantitative"}}},
              {"data": {"name": "left"}, "transform": [{"filter": "datum.p === 'c' && datum.s === 'Right-end strain'"}], "mark": {"type": "point", "shape": "square", "filled": false, "fill": "white", "size": 16, "strokeWidth": 1, "opacity": 1, "color": "#f2473f"},
               "encoding": {"x": {"field": "T", "type": "quantitative"}, "y": {"field": "v", "type": "quantitative"}}},
              {"data": {"values": [{}]}, "mark": {"type": "text", "text": "(c)", "align": "left", "baseline": "top", "dx": 3, "dy": 5, "fontWeight": "bold", "fontSize": 9.5, "color": "#111111"},
               "encoding": {"x": {"datum": -50, "type": "quantitative"}, "y": {"datum": 700, "type": "quantitative"}}}
            ]},
            {"layer": [
              {"data": {"name": "left"}, "transform": [{"filter": "datum.p === 'c' && indexof(datum.s, 'rate') >= 0"}], "mark": {"type": "line", "strokeWidth": 1.1, "strokeDash": [3, 2]},
               "encoding": {"x": {"field": "T", "type": "quantitative"},
                 "y": {"field": "v", "type": "quantitative", "scale": {"domain": [-20, 20], "nice": false}, "axis": {"orient": "right", "values": [-20, -10, 0, 10, 20], "tickCount": 20, "labelPadding": 7, "title": "Response rate (με/°C)", "labelColor": "#f25a50", "titleColor": "#f25a50", "grid": false}},
                 "color": {"field": "s", "type": "nominal", "scale": {"domain": ["Left-end strain", "Left-end rate", "Right-end strain", "Right-end rate"], "range": ["#1f7fb8", "#1f7fb8", "#f2473f", "#f2473f"]}, "legend": null}}},
              {"data": {"name": "left"}, "transform": [{"filter": "datum.p === 'c' && datum.s === 'Left-end rate'"}], "mark": {"type": "point", "shape": "circle", "filled": true, "size": 12, "opacity": 1, "color": "#1f7fb8"},
               "encoding": {"x": {"field": "T", "type": "quantitative"}, "y": {"field": "v", "type": "quantitative"}}},
              {"data": {"name": "left"}, "transform": [{"filter": "datum.p === 'c' && datum.s === 'Right-end rate'"}], "mark": {"type": "point", "shape": "square", "filled": true, "size": 12, "opacity": 1, "color": "#f2473f"},
               "encoding": {"x": {"field": "T", "type": "quantitative"}, "y": {"field": "v", "type": "quantitative"}}}
            ]}
          ]
        },
        {
          "width": 210, "height": 98,
          "layer": [
            {"data": {"values": [{}]}, "mark": {"type": "rule", "color": "#cccccc", "strokeWidth": 1}, "encoding": {"y": {"datum": 0, "type": "quantitative"}}},
            {"data": {"name": "right"}, "transform": [{"filter": "datum.p === 'd'"}], "mark": {"type": "line", "strokeWidth": 1.5},
             "encoding": {"x": {"field": "T", "type": "quantitative", "scale": {"domain": [-50, 80], "nice": false}, "axis": {"values": [-50, -30, -10, 10, 20, 40, 60, 80], "tickCount": 20, "title": "Temperature (°C)", "labelFlush": false}},
               "y": {"field": "v", "type": "quantitative", "scale": {"domain": [-700, 700], "nice": false, "zero": false}, "axis": {"values": [-500, -250, 0, 250, 500], "tickCount": 20, "title": "Strain (με)"}},
               "color": {"field": "s", "type": "nominal", "scale": {"domain": ["Central-left", "Center", "Central-right"], "range": ["#1f7fb8", "#f2473f", "#6cb043"]}, "legend": null}}},
            {"data": {"name": "right"}, "transform": [{"filter": "datum.p === 'd' && datum.s === 'Central-left'"}], "mark": {"type": "point", "shape": "circle", "filled": false, "fill": "white", "size": 16, "strokeWidth": 1, "opacity": 1, "color": "#1f7fb8"},
             "encoding": {"x": {"field": "T", "type": "quantitative"}, "y": {"field": "v", "type": "quantitative"}}},
            {"data": {"name": "right"}, "transform": [{"filter": "datum.p === 'd' && datum.s === 'Center'"}], "mark": {"type": "point", "shape": "square", "filled": false, "fill": "white", "size": 16, "strokeWidth": 1, "opacity": 1, "color": "#f2473f"},
             "encoding": {"x": {"field": "T", "type": "quantitative"}, "y": {"field": "v", "type": "quantitative"}}},
            {"data": {"name": "right"}, "transform": [{"filter": "datum.p === 'd' && datum.s === 'Central-right'"}], "mark": {"type": "point", "shape": "triangle-up", "filled": false, "fill": "white", "size": 16, "strokeWidth": 1, "opacity": 1, "color": "#6cb043"},
             "encoding": {"x": {"field": "T", "type": "quantitative"}, "y": {"field": "v", "type": "quantitative"}}},
            {"data": {"values": [{}]}, "mark": {"type": "text", "text": "(d)", "align": "left", "baseline": "top", "dx": 3, "dy": 5, "fontWeight": "bold", "fontSize": 9.5, "color": "#111111"},
             "encoding": {"x": {"datum": -50, "type": "quantitative"}, "y": {"datum": 700, "type": "quantitative"}}}
          ]
        }
      ]
    },
    {
      "spacing": 16,
      "resolve": {"scale": {"color": "independent", "x": "independent", "y": "independent"}},
      "hconcat": [
        {
          "width": 210, "height": 98,
          "resolve": {"scale": {"y": "independent"}},
          "layer": [
            {"layer": [
              {"data": {"values": [{}]}, "mark": {"type": "rule", "color": "#cccccc", "strokeWidth": 1}, "encoding": {"y": {"datum": 0, "type": "quantitative"}}},
              {"data": {"name": "left"}, "transform": [{"filter": "datum.p === 'e' && indexof(datum.s, 'strain') >= 0"}], "mark": {"type": "line", "strokeWidth": 1.5},
               "encoding": {"x": {"field": "T", "type": "quantitative", "scale": {"domain": [-50, 80], "nice": false}, "axis": {"values": [-50, -30, -10, 10, 20, 40, 60, 80], "tickCount": 20, "title": "Temperature (°C)", "labelFlush": false}},
                 "y": {"field": "v", "type": "quantitative", "scale": {"domain": [-700, 700], "nice": false, "zero": false}, "axis": {"values": [-500, -250, 0, 250, 500], "tickCount": 20, "title": "Strain (με)", "labelColor": "#4a9fd4", "titleColor": "#4a9fd4"}},
                 "color": {"field": "s", "type": "nominal", "scale": {"domain": ["Left-end strain", "Left-end rate", "Right-end strain", "Right-end rate"], "range": ["#1f7fb8", "#1f7fb8", "#f2473f", "#f2473f"]}, "legend": null}}},
              {"data": {"name": "left"}, "transform": [{"filter": "datum.p === 'e' && datum.s === 'Left-end strain'"}], "mark": {"type": "point", "shape": "circle", "filled": false, "fill": "white", "size": 16, "strokeWidth": 1, "opacity": 1, "color": "#1f7fb8"},
               "encoding": {"x": {"field": "T", "type": "quantitative"}, "y": {"field": "v", "type": "quantitative"}}},
              {"data": {"name": "left"}, "transform": [{"filter": "datum.p === 'e' && datum.s === 'Right-end strain'"}], "mark": {"type": "point", "shape": "square", "filled": false, "fill": "white", "size": 16, "strokeWidth": 1, "opacity": 1, "color": "#f2473f"},
               "encoding": {"x": {"field": "T", "type": "quantitative"}, "y": {"field": "v", "type": "quantitative"}}},
              {"data": {"values": [{}]}, "mark": {"type": "text", "text": "(e)", "align": "left", "baseline": "top", "dx": 3, "dy": 5, "fontWeight": "bold", "fontSize": 9.5, "color": "#111111"},
               "encoding": {"x": {"datum": -50, "type": "quantitative"}, "y": {"datum": 700, "type": "quantitative"}}}
            ]},
            {"layer": [
              {"data": {"name": "left"}, "transform": [{"filter": "datum.p === 'e' && indexof(datum.s, 'rate') >= 0"}], "mark": {"type": "line", "strokeWidth": 1.1, "strokeDash": [3, 2]},
               "encoding": {"x": {"field": "T", "type": "quantitative"},
                 "y": {"field": "v", "type": "quantitative", "scale": {"domain": [-20, 20], "nice": false}, "axis": {"orient": "right", "values": [-20, -10, 0, 10, 20], "tickCount": 20, "labelPadding": 7, "title": "Response rate (με/°C)", "labelColor": "#f25a50", "titleColor": "#f25a50", "grid": false}},
                 "color": {"field": "s", "type": "nominal", "scale": {"domain": ["Left-end strain", "Left-end rate", "Right-end strain", "Right-end rate"], "range": ["#1f7fb8", "#1f7fb8", "#f2473f", "#f2473f"]}, "legend": null}}},
              {"data": {"name": "left"}, "transform": [{"filter": "datum.p === 'e' && datum.s === 'Left-end rate'"}], "mark": {"type": "point", "shape": "circle", "filled": true, "size": 12, "opacity": 1, "color": "#1f7fb8"},
               "encoding": {"x": {"field": "T", "type": "quantitative"}, "y": {"field": "v", "type": "quantitative"}}},
              {"data": {"name": "left"}, "transform": [{"filter": "datum.p === 'e' && datum.s === 'Right-end rate'"}], "mark": {"type": "point", "shape": "square", "filled": true, "size": 12, "opacity": 1, "color": "#f2473f"},
               "encoding": {"x": {"field": "T", "type": "quantitative"}, "y": {"field": "v", "type": "quantitative"}}}
            ]}
          ]
        },
        {
          "width": 210, "height": 98,
          "layer": [
            {"data": {"values": [{}]}, "mark": {"type": "rule", "color": "#cccccc", "strokeWidth": 1}, "encoding": {"y": {"datum": 0, "type": "quantitative"}}},
            {"data": {"name": "right"}, "transform": [{"filter": "datum.p === 'f'"}], "mark": {"type": "line", "strokeWidth": 1.5},
             "encoding": {"x": {"field": "T", "type": "quantitative", "scale": {"domain": [-50, 80], "nice": false}, "axis": {"values": [-50, -30, -10, 10, 20, 40, 60, 80], "tickCount": 20, "title": "Temperature (°C)", "labelFlush": false}},
               "y": {"field": "v", "type": "quantitative", "scale": {"domain": [-700, 700], "nice": false, "zero": false}, "axis": {"values": [-500, -250, 0, 250, 500], "tickCount": 20, "title": "Strain (με)"}},
               "color": {"field": "s", "type": "nominal", "scale": {"domain": ["Central-left", "Center", "Central-right"], "range": ["#1f7fb8", "#f2473f", "#6cb043"]}, "legend": null}}},
            {"data": {"name": "right"}, "transform": [{"filter": "datum.p === 'f' && datum.s === 'Central-left'"}], "mark": {"type": "point", "shape": "circle", "filled": false, "fill": "white", "size": 16, "strokeWidth": 1, "opacity": 1, "color": "#1f7fb8"},
             "encoding": {"x": {"field": "T", "type": "quantitative"}, "y": {"field": "v", "type": "quantitative"}}},
            {"data": {"name": "right"}, "transform": [{"filter": "datum.p === 'f' && datum.s === 'Center'"}], "mark": {"type": "point", "shape": "square", "filled": false, "fill": "white", "size": 16, "strokeWidth": 1, "opacity": 1, "color": "#f2473f"},
             "encoding": {"x": {"field": "T", "type": "quantitative"}, "y": {"field": "v", "type": "quantitative"}}},
            {"data": {"name": "right"}, "transform": [{"filter": "datum.p === 'f' && datum.s === 'Central-right'"}], "mark": {"type": "point", "shape": "triangle-up", "filled": false, "fill": "white", "size": 16, "strokeWidth": 1, "opacity": 1, "color": "#6cb043"},
             "encoding": {"x": {"field": "T", "type": "quantitative"}, "y": {"field": "v", "type": "quantitative"}}},
            {"data": {"values": [{}]}, "mark": {"type": "text", "text": "(f)", "align": "left", "baseline": "top", "dx": 3, "dy": 5, "fontWeight": "bold", "fontSize": 9.5, "color": "#111111"},
             "encoding": {"x": {"datum": -50, "type": "quantitative"}, "y": {"datum": 700, "type": "quantitative"}}}
          ]
        }
      ]
    },
    {
      "spacing": 16,
      "resolve": {"scale": {"color": "independent", "x": "independent", "y": "independent"}},
      "hconcat": [
        {
          "width": 210, "height": 98,
          "resolve": {"scale": {"y": "independent"}},
          "layer": [
            {"layer": [
              {"data": {"values": [{}]}, "mark": {"type": "rule", "color": "#cccccc", "strokeWidth": 1}, "encoding": {"y": {"datum": 0, "type": "quantitative"}}},
              {"data": {"name": "left"}, "transform": [{"filter": "datum.p === 'g' && indexof(datum.s, 'strain') >= 0"}], "mark": {"type": "line", "strokeWidth": 1.5},
               "encoding": {"x": {"field": "T", "type": "quantitative", "scale": {"domain": [-50, 80], "nice": false}, "axis": {"values": [-50, -30, -10, 10, 20, 40, 60, 80], "tickCount": 20, "title": "Temperature (°C)", "labelFlush": false}},
                 "y": {"field": "v", "type": "quantitative", "scale": {"domain": [-700, 700], "nice": false, "zero": false}, "axis": {"values": [-500, -250, 0, 250, 500], "tickCount": 20, "title": "Strain (με)", "labelColor": "#4a9fd4", "titleColor": "#4a9fd4"}},
                 "color": {"field": "s", "type": "nominal", "scale": {"domain": ["Left-end strain", "Left-end rate", "Right-end strain", "Right-end rate"], "range": ["#1f7fb8", "#1f7fb8", "#f2473f", "#f2473f"]}, "legend": null}}},
              {"data": {"name": "left"}, "transform": [{"filter": "datum.p === 'g' && datum.s === 'Left-end strain'"}], "mark": {"type": "point", "shape": "circle", "filled": false, "fill": "white", "size": 16, "strokeWidth": 1, "opacity": 1, "color": "#1f7fb8"},
               "encoding": {"x": {"field": "T", "type": "quantitative"}, "y": {"field": "v", "type": "quantitative"}}},
              {"data": {"name": "left"}, "transform": [{"filter": "datum.p === 'g' && datum.s === 'Right-end strain'"}], "mark": {"type": "point", "shape": "square", "filled": false, "fill": "white", "size": 16, "strokeWidth": 1, "opacity": 1, "color": "#f2473f"},
               "encoding": {"x": {"field": "T", "type": "quantitative"}, "y": {"field": "v", "type": "quantitative"}}},
              {"data": {"values": [{}]}, "mark": {"type": "text", "text": "(g)", "align": "left", "baseline": "top", "dx": 3, "dy": 5, "fontWeight": "bold", "fontSize": 9.5, "color": "#111111"},
               "encoding": {"x": {"datum": -50, "type": "quantitative"}, "y": {"datum": 700, "type": "quantitative"}}}
            ]},
            {"layer": [
              {"data": {"name": "left"}, "transform": [{"filter": "datum.p === 'g' && indexof(datum.s, 'rate') >= 0"}], "mark": {"type": "line", "strokeWidth": 1.1, "strokeDash": [3, 2]},
               "encoding": {"x": {"field": "T", "type": "quantitative"},
                 "y": {"field": "v", "type": "quantitative", "scale": {"domain": [-20, 20], "nice": false}, "axis": {"orient": "right", "values": [-20, -10, 0, 10, 20], "tickCount": 20, "labelPadding": 7, "title": "Response rate (με/°C)", "labelColor": "#f25a50", "titleColor": "#f25a50", "grid": false}},
                 "color": {"field": "s", "type": "nominal", "scale": {"domain": ["Left-end strain", "Left-end rate", "Right-end strain", "Right-end rate"], "range": ["#1f7fb8", "#1f7fb8", "#f2473f", "#f2473f"]}, "legend": null}}},
              {"data": {"name": "left"}, "transform": [{"filter": "datum.p === 'g' && datum.s === 'Left-end rate'"}], "mark": {"type": "point", "shape": "circle", "filled": true, "size": 12, "opacity": 1, "color": "#1f7fb8"},
               "encoding": {"x": {"field": "T", "type": "quantitative"}, "y": {"field": "v", "type": "quantitative"}}},
              {"data": {"name": "left"}, "transform": [{"filter": "datum.p === 'g' && datum.s === 'Right-end rate'"}], "mark": {"type": "point", "shape": "square", "filled": true, "size": 12, "opacity": 1, "color": "#f2473f"},
               "encoding": {"x": {"field": "T", "type": "quantitative"}, "y": {"field": "v", "type": "quantitative"}}}
            ]}
          ]
        },
        {
          "width": 210, "height": 98,
          "layer": [
            {"data": {"values": [{}]}, "mark": {"type": "rule", "color": "#cccccc", "strokeWidth": 1}, "encoding": {"y": {"datum": 0, "type": "quantitative"}}},
            {"data": {"name": "right"}, "transform": [{"filter": "datum.p === 'h'"}], "mark": {"type": "line", "strokeWidth": 1.5},
             "encoding": {"x": {"field": "T", "type": "quantitative", "scale": {"domain": [-50, 80], "nice": false}, "axis": {"values": [-50, -30, -10, 10, 20, 40, 60, 80], "tickCount": 20, "title": "Temperature (°C)", "labelFlush": false}},
               "y": {"field": "v", "type": "quantitative", "scale": {"domain": [-700, 700], "nice": false, "zero": false}, "axis": {"values": [-500, -250, 0, 250, 500], "tickCount": 20, "title": "Strain (με)"}},
               "color": {"field": "s", "type": "nominal", "scale": {"domain": ["Central-left", "Center", "Central-right"], "range": ["#1f7fb8", "#f2473f", "#6cb043"]}, "legend": null}}},
            {"data": {"name": "right"}, "transform": [{"filter": "datum.p === 'h' && datum.s === 'Central-left'"}], "mark": {"type": "point", "shape": "circle", "filled": false, "fill": "white", "size": 16, "strokeWidth": 1, "opacity": 1, "color": "#1f7fb8"},
             "encoding": {"x": {"field": "T", "type": "quantitative"}, "y": {"field": "v", "type": "quantitative"}}},
            {"data": {"name": "right"}, "transform": [{"filter": "datum.p === 'h' && datum.s === 'Center'"}], "mark": {"type": "point", "shape": "square", "filled": false, "fill": "white", "size": 16, "strokeWidth": 1, "opacity": 1, "color": "#f2473f"},
             "encoding": {"x": {"field": "T", "type": "quantitative"}, "y": {"field": "v", "type": "quantitative"}}},
            {"data": {"name": "right"}, "transform": [{"filter": "datum.p === 'h' && datum.s === 'Central-right'"}], "mark": {"type": "point", "shape": "triangle-up", "filled": false, "fill": "white", "size": 16, "strokeWidth": 1, "opacity": 1, "color": "#6cb043"},
             "encoding": {"x": {"field": "T", "type": "quantitative"}, "y": {"field": "v", "type": "quantitative"}}},
            {"data": {"values": [{}]}, "mark": {"type": "text", "text": "(h)", "align": "left", "baseline": "top", "dx": 3, "dy": 5, "fontWeight": "bold", "fontSize": 9.5, "color": "#111111"},
             "encoding": {"x": {"datum": -50, "type": "quantitative"}, "y": {"datum": 700, "type": "quantitative"}}}
          ]
        }
      ]
    }
  ],
  "config": {
    "font": "DejaVu Sans",
    "view": {"stroke": "#555555", "strokeWidth": 1.2},
    "axis": {"labelFontSize": 8, "titleFontSize": 9, "titleFontWeight": "normal", "labelColor": "#333333", "titleColor": "#222222", "gridColor": "#d9d9d9", "gridDash": [1.5, 2], "gridWidth": 0.8, "domain": false, "tickColor": "#555555", "tickSize": -3, "labelPadding": 3, "titlePadding": 3, "labelOverlap": false},
    "legend": {"labelFont": "DejaVu Sans", "labelColor": "#333333"}
  }
}
